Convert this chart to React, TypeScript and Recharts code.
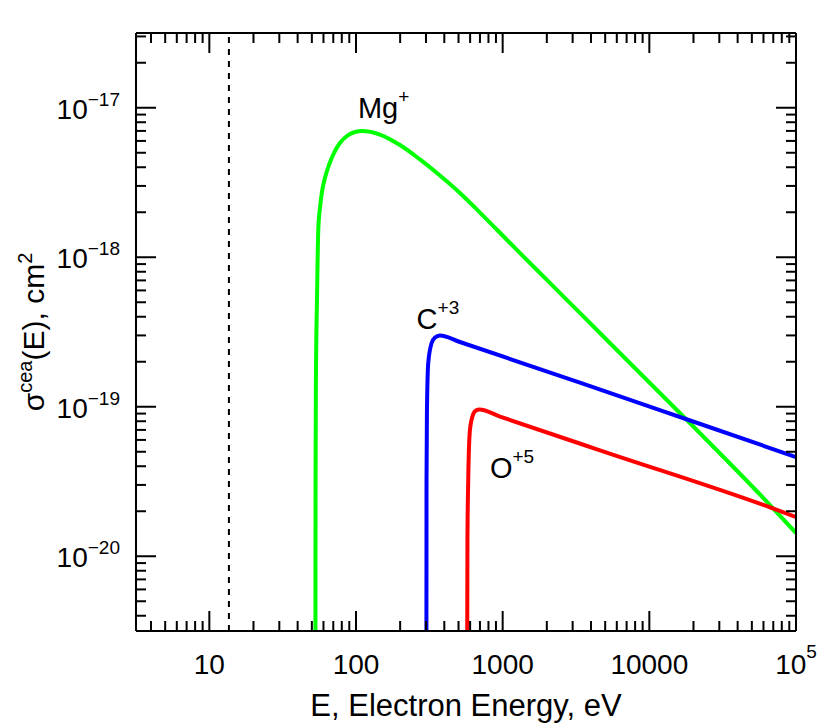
import React from 'react';
import { LineChart, Line, XAxis, YAxis, ReferenceLine, ReferenceDot } from 'recharts';

const FONT = '"Liberation Sans", Arial, Helvetica, sans-serif';

// Mg+ (green)
const mgEnergy = [52.9, 53.0, 53.3, 54.2, 55.3, 56.8, 58.6, 61.4, 65.4, 70.7, 77.7, 86.8, 98.4, 109.8, 145.6, 199.4, 272.9, 373.5, 511.2, 699.7, 1175, 2003, 3362, 9623, 18030, 69540, 100000];
const mgSigma = [3.0e-21, 3.24e-20, 1.51e-19, 5.18e-19, 1.52e-18, 2.14e-18, 2.73e-18, 3.39e-18, 4.14e-18, 4.98e-18, 5.81e-18, 6.47e-18, 6.88e-18, 6.99e-18, 6.62e-18, 5.63e-18, 4.51e-18, 3.52e-18, 2.69e-18, 1.99e-18, 1.19e-18, 7.05e-19, 4.24e-19, 1.51e-19, 8.15e-20, 2.1e-20, 1.43e-20];

// C+3 (blue)
const cEnergy = [302.1, 302.6, 304.5, 310.8, 328.0, 345.4, 373.5, 511.2, 3362, 16930, 100000];
const cSigma = [3.0e-21, 3.24e-20, 9.08e-20, 1.96e-19, 2.67e-19, 2.9e-19, 3.0e-19, 2.71e-19, 1.45e-19, 8.41e-20, 4.61e-20];

// O+5 (red)
const oEnergy = [573.4, 575.2, 582.4, 598.2, 630.0, 657.3, 694.3, 957.9, 4603, 69540, 100000];
const oSigma = [3.0e-21, 1.28e-20, 3.24e-20, 6.99e-20, 8.94e-20, 9.44e-20, 9.58e-20, 8.6e-20, 5.11e-20, 2.09e-20, 1.83e-20];

// ion labels
const ionNames = ['Mg', 'C', 'O'];
const ionCharges = ['+', '+3', '+5'];
const ionLabelE = [103, 259, 819];
const ionLabelSigma = [8.54e-18, 3.31e-19, 3.34e-20];

const thresholdE = 13.6;

// axes
const xDomain = [Math.pow(10, 0.5), 1e5];
const yDomain = [Math.pow(10, -20.5), Math.pow(10, -16.5)];
const xMajor = [10, 100, 1000, 10000, 100000];
const xMajorText = ['10', '100', '1000', '10000', '10'];
const xMajorSup = ['', '', '', '', '5'];
const yMajor = [1e-20, 1e-19, 1e-18, 1e-17];
const yMajorSup = ['\u221220', '\u221219', '\u221218', '\u221217'];

const toRows = (es: number[], ss: number[]) => es.map((E, i) => ({ E, s: ss[i] }));
const mgData = toRows(mgEnergy, mgSigma);
const cData = toRows(cEnergy, cSigma);
const oData = toRows(oEnergy, oSigma);

function logTicks(lo: number, hi: number, firstDecade: number, lastDecade: number) {
  const out: number[] = [];
  for (let d = firstDecade; d <= lastDecade; d++) {
    for (let m = 1; m <= 9; m++) {
      const v = m * Math.pow(10, d);
      if (v >= lo * 0.9999 && v <= hi * 1.0001) out.push(v);
    }
  }
  return out;
}
const xTicks = logTicks(xDomain[0], xDomain[1], 0, 5);
const yTicks = logTicks(yDomain[0], yDomain[1], -21, -17);

const majorIndex = (v: number, majors: number[]) =>
  majors.findIndex((m) => Math.abs(v - m) / m < 1e-6);

const BottomTick = (props: any) => {
  const { x, y, payload } = props;
  const i = majorIndex(payload.value, xMajor);
  return (
    <g>
      <line x1={x} x2={x} y1={y} y2={y - (i >= 0 ? 20 : 10)} stroke="#000" strokeWidth={2} />
      {i >= 0 && (
        <text x={x} y={y + 43} textAnchor="middle" fontSize={28} fontFamily={FONT} fill="#000">
          {xMajorText[i]}
          {xMajorSup[i] && (
            <tspan dy={-16} fontSize={19}>
              {xMajorSup[i]}
            </tspan>
          )}
        </text>
      )}
    </g>
  );
};

const TopTick = (props: any) => {
  const { x, y, payload } = props;
  const i = majorIndex(payload.value, xMajor);
  return <line x1={x} x2={x} y1={y} y2={y + (i >= 0 ? 20 : 10)} stroke="#000" strokeWidth={2} />;
};

const LeftTick = (props: any) => {
  const { x, y, payload } = props;
  const i = majorIndex(payload.value, yMajor);
  return (
    <g>
      <line x1={x} x2={x + (i >= 0 ? 20 : 10)} y1={y} y2={y} stroke="#000" strokeWidth={2} />
      {i >= 0 && (
        <text x={x - 16} y={y + 11} textAnchor="end" fontSize={28} fontFamily={FONT} fill="#000">
          10
          <tspan dy={-13} fontSize={19}>
            {yMajorSup[i]}
          </tspan>
        </text>
      )}
    </g>
  );
};

const RightTick = (props: any) => {
  const { x, y, payload } = props;
  const i = majorIndex(payload.value, yMajor);
  return <line x1={x} x2={x - (i >= 0 ? 20 : 10)} y1={y} y2={y} stroke="#000" strokeWidth={2} />;
};

const XTitle = (props: any) => {
  const vb = props.viewBox;
  return (
    <text x={vb.x + vb.width / 2} y={vb.y + 85} textAnchor="middle" fontSize={31} fontFamily={FONT} fill="#000">
      E, Electron Energy, eV
    </text>
  );
};

const YTitle = (props: any) => {
  const vb = props.viewBox;
  const cx = vb.x + vb.width - 92;
  const cy = vb.y + vb.height / 2;
  return (
    <text
      x={cx}
      y={cy}
      transform={`rotate(-90, ${cx}, ${cy})`}
      textAnchor="middle"
      fontSize={30}
      fontFamily={FONT}
      fill="#000"
    >
      σ
      <tspan dy={-12} fontSize={20}>cea</tspan>
      <tspan dy={12}>(E), cm</tspan>
      <tspan dy={-12} fontSize={20}>2</tspan>
    </text>
  );
};

const IonLabel = (i: number) => (props: any) => {
  const { cx, cy } = props;
  return (
    <text x={cx} y={cy} fontSize={29} fontFamily={FONT} fill="#000">
      {ionNames[i]}
      <tspan dy={-15} fontSize={19}>
        {ionCharges[i]}
      </tspan>
    </text>
  );
};

const axisLine = { stroke: '#000', strokeWidth: 2 };

export default function App() {
  return (
    <div style={{ width: 822, height: 719 }}>
      <LineChart width={822} height={719} margin={{ top: 15, right: 24, bottom: 66, left: 68 }}>
        <XAxis
          dataKey="E"
          type="number"
          scale="log"
          domain={xDomain}
          allowDataOverflow
          ticks={xTicks}
          interval={0}
          tickSize={0}
          tickMargin={0}
          tick={BottomTick}
          axisLine={axisLine}
          height={30}
          label={{ content: XTitle }}
        />
        <XAxis
          xAxisId="top"
          orientation="top"
          dataKey="E"
          type="number"
          scale="log"
          domain={xDomain}
          allowDataOverflow
          ticks={xTicks}
          interval={0}
          tickSize={0}
          tickMargin={0}
          tick={TopTick}
          axisLine={axisLine}
          height={10}
        />
        <YAxis
          type="number"
          scale="log"
          domain={yDomain}
          allowDataOverflow
          ticks={yTicks}
          interval={0}
          tickSize={0}
          tickMargin={0}
          tick={LeftTick}
          axisLine={axisLine}
          width={60}
          label={{ content: YTitle }}
        />
        <YAxis
          yAxisId="right"
          orientation="right"
          type="number"
          scale="log"
          domain={yDomain}
          allowDataOverflow
          ticks={yTicks}
          interval={0}
          tickSize={0}
          tickMargin={0}
          tick={RightTick}
          axisLine={axisLine}
          width={10}
        />

        <ReferenceLine x={thresholdE} stroke="#000" strokeWidth={2} strokeDasharray="6 6" />

        <Line data={mgData} dataKey="s" type="monotone" stroke="#00ff00" strokeWidth={4} dot={false} isAnimationActive={false} />
        <Line data={cData} dataKey="s" type="monotone" stroke="#0000ff" strokeWidth={4} dot={false} isAnimationActive={false} />
        <Line data={oData} dataKey="s" type="monotone" stroke="#ff0000" strokeWidth={4} dot={false} isAnimationActive={false} />

        {ionNames.map((n, i) => (
          <ReferenceDot key={n} x={ionLabelE[i]} y={ionLabelSigma[i]} r={0} shape={IonLabel(i)} />
        ))}
      </LineChart>
    </div>
  );
}
